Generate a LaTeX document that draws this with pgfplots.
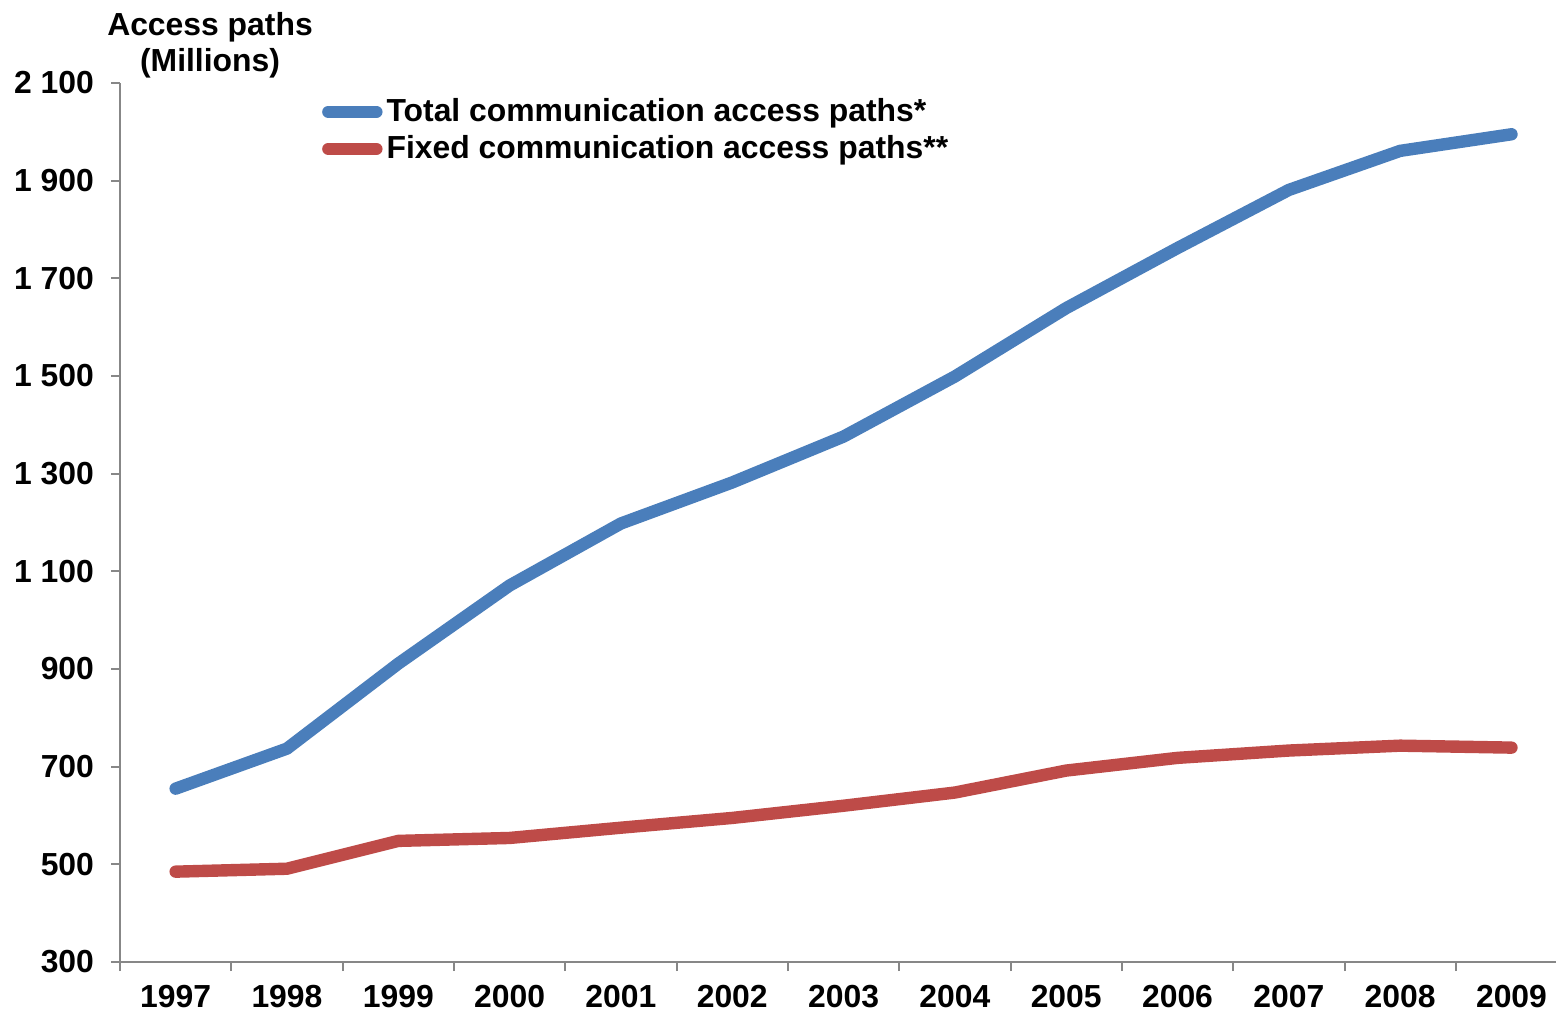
\documentclass[border=0pt]{standalone}
\usepackage{fontspec}
\setmainfont{Liberation Sans}
\usepackage{pgfplots}
\pgfplotsset{compat=1.18}
\definecolor{sblue}{HTML}{4A7EBB}
\definecolor{sred}{HTML}{BE4B48}
\definecolor{axgray}{HTML}{878787}
\begin{document}
\begin{tikzpicture}
\useasboundingbox (-60bp,-25bp) rectangle (718bp,481bp);
\begin{axis}[
  at={(0,0)}, anchor=south west,
  scale only axis, width=718bp, height=439.5bp,
  xmin=-0.5, xmax=12.4, ymin=300, ymax=2100,
  axis x line=bottom, axis y line=left,
  axis line style={axgray, line width=1bp, -},
  every tick/.style={axgray, line width=1bp},
  xtick={0,...,12},
  xticklabels={1997,1998,1999,2000,2001,2002,2003,2004,2005,2006,2007,2008,2009},
  major x tick style={draw=none},
  minor xtick={-0.5,0.5,...,11.5},
  minor tick length=4.5bp,
  ytick={300,500,...,2100},
  major tick length=4.5bp,
  tick align=outside,
  /pgf/number format/assume math mode=true,
  /pgf/number format/1000 sep={\ },
  tick label style={font=\bfseries\fontsize{16}{18}\selectfont, black},
  yticklabel style={xshift=-5bp},
  xticklabel style={yshift=-3.5bp},
  legend style={at={(rel axis cs:0.1405,0.987)}, anchor=north west, draw=none, fill=none,
    font=\bfseries\fontsize{16}{18}\selectfont, inner sep=0pt,
    row sep=1.5bp, cells={anchor=west},
    /tikz/every even column/.append style={column sep=1bp}},
  legend cell align=left,
  legend image code/.code={\draw[#1, line cap=round] (3bp,0bp) -- (27bp,0bp);},
  clip=false,
]
\addplot[sblue, line width=6.2bp, line cap=round, line join=round] coordinates {
(0,655) (1,737) (2,911) (3,1071) (4,1198) (5,1282) (6,1376) (7,1499) (8,1639) (9,1762) (10,1881) (11,1961) (12,1995)};
\addlegendentry{Total communication access paths*}
\addplot[sred, line width=6.2bp, line cap=round, line join=round] coordinates {
(0,485) (1,491) (2,548) (3,554) (4,575) (5,595) (6,620) (7,647) (8,692) (9,718) (10,733) (11,743) (12,739)};
\addlegendentry{Fixed communication access paths**}
\node[align=center, font=\bfseries\fontsize{16}{18}\selectfont, inner sep=0pt] at (rel axis cs:0.0627,1.0425) {Access paths\\(Millions)};
\end{axis}
\end{tikzpicture}
\end{document}
